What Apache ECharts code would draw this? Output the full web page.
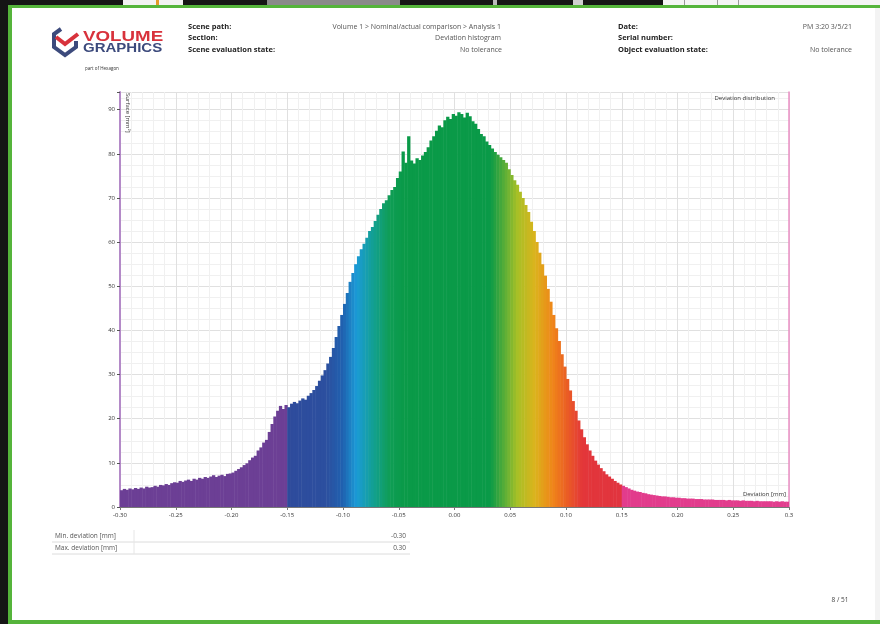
<!DOCTYPE html>
<html>
<head>
<meta charset="utf-8">
<script src="https://cdn.jsdelivr.net/npm/echarts@6/dist/echarts.min.js"></script>
<style>
  html, body { margin: 0; padding: 0; background: #fff; }
  #chart { width: 880px; height: 624px; }
</style>
</head>
<body>
<div id="chart"></div>
<script>
// Deviation histogram: bins of 0.0025 mm from -0.30 mm to 0.30 mm
var binStart = -0.30;
var binWidth = 0.0025;
var surface = [
  3.8, 4.1, 3.9, 4.2,   4.0, 4.3, 4.1, 4.4,   4.2, 4.6, 4.4, 4.5,   4.8, 4.6, 5.0, 4.9,
  5.2, 5.0, 5.4, 5.6,   5.5, 5.9, 5.7, 6.0,   6.2, 5.9, 6.4, 6.2,   6.6, 6.4, 6.8, 6.6,
  6.9, 7.2, 6.8, 7.1,   7.3, 7.0, 7.5, 7.6,   7.8, 8.2, 8.6, 9.0,   9.5, 9.9, 10.6, 11.2,
  11.6, 12.8, 13.5, 14.6,  15.2, 17.0, 18.8, 20.5,  21.8, 22.9, 22.2, 23.1,  22.6, 23.4, 23.8, 23.5,
  24.1, 24.6, 24.3, 25.2,  25.8, 26.5, 27.4, 28.6,  29.8, 31.0, 32.5, 34.0,  36.0, 38.5, 41.0, 43.5,
  46.0, 48.5, 51.0, 53.0,  55.0, 56.8, 58.4, 59.6,  61.0, 62.5, 63.4, 64.8,  66.2, 67.5, 68.8, 69.5,
  70.6, 71.8, 72.5, 74.5,  76.0, 80.5, 78.0, 84.0,  78.5, 77.8, 79.0, 78.6,  79.6, 80.4, 81.5, 83.0,
  84.0, 85.2, 86.4, 86.0,  87.6, 88.4, 87.9, 89.0,  88.6, 89.4, 89.0, 88.2,  89.3, 88.5, 87.4, 86.8,
  85.6, 84.5, 84.0, 82.8,  82.0, 81.2, 80.4, 79.8,  79.2, 78.6, 78.0, 76.5,  75.2, 74.0, 73.0, 71.4,
  70.0, 68.4, 66.8, 64.6,  62.5, 60.0, 57.6, 55.0,  52.4, 49.4, 46.5, 43.5,  40.5, 37.6, 34.6, 31.8,
  29.0, 26.4, 24.0, 21.8,  19.6, 17.6, 15.8, 14.2,  12.8, 11.6, 10.5, 9.6,   8.8, 8.1, 7.4, 6.9,
  6.4, 5.9, 5.5, 5.1,   4.8, 4.5, 4.2, 3.9,   3.7, 3.5, 3.4, 3.2,   3.1, 2.9, 2.8, 2.7,
  2.6, 2.5, 2.4, 2.4,   2.3, 2.2, 2.2, 2.1,   2.1, 2.0, 2.0, 1.9,   1.9, 1.9, 1.8, 1.8,
  1.8, 1.7, 1.7, 1.7,   1.7, 1.6, 1.6, 1.6,   1.6, 1.5, 1.6, 1.5,   1.5, 1.5, 1.4, 1.5,
  1.4, 1.4, 1.4, 1.3,   1.4, 1.3, 1.3, 1.3,   1.3, 1.3, 1.2, 1.3,   1.2, 1.3, 1.2, 1.2
];
var xTicks = ['-0.30', '-0.25', '-0.20', '-0.15', '-0.10', '-0.05', '0.00', '0.05', '0.10', '0.15', '0.20', '0.25', '0.3'];

// Colour scale along the deviation axis
var colorStops = [
  [-0.300, '#6c3f95'], [-0.1505, '#6c3f95'], [-0.150, '#2e4b9c'], [-0.115, '#2c4f9f'],
  [-0.100, '#1f62b0'], [-0.088, '#1b9bd7'], [-0.072, '#12a08e'], [-0.058, '#0f9d55'],
  [-0.045, '#0a9a48'], [0.032, '#0a9a48'], [0.045, '#5aae37'], [0.056, '#a6c027'],
  [0.072, '#dbb31c'], [0.088, '#ef8519'], [0.102, '#ea5a26'], [0.115, '#e3363a'],
  [0.1495, '#e1343f'], [0.150, '#e23c8c'], [0.300, '#e23c8e']
];

function hexToRgb(h) {
  return [parseInt(h.slice(1, 3), 16), parseInt(h.slice(3, 5), 16), parseInt(h.slice(5, 7), 16)];
}
function colorAt(x) {
  for (var i = 0; i < colorStops.length - 1; i++) {
    var a = colorStops[i], b = colorStops[i + 1];
    if (x >= a[0] && x <= b[0]) {
      var t = (x - a[0]) / (b[0] - a[0]);
      var ca = hexToRgb(a[1]), cb = hexToRgb(b[1]);
      var c = ca.map(function (v, k) { return Math.round(v + (cb[k] - v) * t); });
      return 'rgb(' + c.join(',') + ')';
    }
  }
  return colorStops[colorStops.length - 1][1];
}

var bins = surface.map(function (v, i) {
  var lo = binStart + i * binWidth;
  return [lo, lo + binWidth, v];
});

var chart = echarts.init(document.getElementById('chart'), null, { renderer: 'canvas' });
var FONT = 'Open Sans';
var navy = '#3c4a7c', red = '#d8323c';

function txt(x, y, s, opt) {
  opt = opt || {};
  return {
    type: 'text', x: x, y: y, silent: true, z: 10,
    scaleX: opt.scaleX || 1,
    style: {
      text: s, fill: opt.color || '#333', fontSize: opt.size || 7.5,
      fontWeight: opt.bold ? 'bold' : 'normal', fontFamily: opt.font || FONT,
      align: opt.align || 'left', verticalAlign: 'middle'
    },
    rotation: opt.rotation || 0
  };
}
function rect(x, y, w, h, fill) {
  return { type: 'rect', shape: { x: x, y: y, width: w, height: h }, style: { fill: fill }, silent: true, z: 5 };
}

var graphics = [
  // window frame
  rect(0, 0, 880, 6, '#151515'),
  rect(123, 0, 60, 5, '#f2f2f2'),
  rect(156, 0, 3, 5, '#e29a2a'),
  rect(267, 0, 133, 5, '#8a8a8a'),
  rect(493, 0, 4, 5, '#bbbbbb'),
  rect(573, 0, 10, 5, '#cfcfcf'),
  rect(663, 0, 217, 5, '#f4f4f4'),
  rect(684, 0, 1, 5, '#999'),
  rect(717, 0, 1, 5, '#999'),
  rect(738, 0, 1, 5, '#999'),
  rect(0, 0, 8, 624, '#151515'),
  rect(8, 5, 872, 3, '#55b43b'),
  rect(8, 5, 4, 619, '#55b43b'),
  rect(8, 620, 872, 4, '#55b43b'),
  rect(875, 8, 5, 612, '#f3f3f3'),

  // logo mark
  { type: 'polyline', shape: { points: [[61, 29], [54, 34], [54, 47], [65, 55], [76, 47], [76, 41]] },
    style: { stroke: navy, lineWidth: 4, fill: null, lineJoin: 'miter' }, silent: true, z: 10 },
  { type: 'polyline', shape: { points: [[56, 37], [65, 44], [78, 34]] },
    style: { stroke: red, lineWidth: 4, fill: null, lineJoin: 'miter' }, silent: true, z: 11 },
  txt(83, 37, 'VOLUME', { color: red, size: 15, bold: true, font: 'Liberation Sans', scaleX: 1.25 }),
  txt(83, 49, 'GRAPHICS', { color: navy, size: 12.5, bold: true, font: 'Liberation Sans', scaleX: 1.2 }),
  txt(85, 69, 'part of Hexagon', { size: 4.5, color: '#333' }),

  // report header
  txt(188, 27, 'Scene path:', { bold: true, size: 7.5, color: '#222' }),
  txt(188, 38, 'Section:', { bold: true, size: 7.5, color: '#222' }),
  txt(188, 50, 'Scene evaluation state:', { bold: true, size: 7.5, color: '#222' }),
  txt(501, 27, 'Volume 1 > Nominal/actual comparison > Analysis 1', { align: 'right', size: 7, color: '#555' }),
  txt(501, 38, 'Deviation histogram', { align: 'right', size: 7, color: '#555' }),
  txt(502, 50, 'No tolerance', { align: 'right', size: 7, color: '#555' }),
  txt(618, 27, 'Date:', { bold: true, size: 7.5, color: '#222' }),
  txt(618, 38, 'Serial number:', { bold: true, size: 7.5, color: '#222' }),
  txt(618, 50, 'Object evaluation state:', { bold: true, size: 7.5, color: '#222' }),
  txt(852, 27, 'PM 3:20 3/5/21', { align: 'right', size: 7, color: '#555' }),
  txt(852, 50, 'No tolerance', { align: 'right', size: 7, color: '#555' }),

  // chart captions
  txt(775, 98, 'Deviation distribution', { align: 'right', size: 6, color: '#333' }),
  txt(786, 494, 'Deviation [mm]', { align: 'right', size: 6, color: '#333' }),
  txt(128, 93, 'Surface [mm²]', { size: 6, color: '#333', rotation: -Math.PI / 2 }),

  // summary table
  txt(55, 536, 'Min. deviation [mm]', { size: 6.5, color: '#555' }),
  txt(406, 536, '-0.30', { align: 'right', size: 6.5, color: '#555' }),
  { type: 'line', shape: { x1: 52, y1: 542, x2: 410, y2: 542 }, style: { stroke: '#dcdcdc', lineWidth: 1 }, silent: true },
  txt(55, 548, 'Max. deviation [mm]', { size: 6.5, color: '#555' }),
  txt(406, 548, '0.30', { align: 'right', size: 6.5, color: '#555' }),
  { type: 'line', shape: { x1: 52, y1: 554, x2: 410, y2: 554 }, style: { stroke: '#dcdcdc', lineWidth: 1 }, silent: true },
  { type: 'line', shape: { x1: 134, y1: 530, x2: 134, y2: 554 }, style: { stroke: '#e6e6e6', lineWidth: 1 }, silent: true },

  txt(840, 600, '8 / 51', { align: 'center', size: 6.5, color: '#444' })
];

var option = {
  backgroundColor: '#ffffff',
  animation: false,
  grid: { left: 120, right: 91, top: 92, bottom: 117, containLabel: false },
  xAxis: {
    type: 'value', min: -0.30, max: 0.30, interval: 0.05,
    axisLine: { show: true, onZero: false, lineStyle: { color: '#777', width: 1 } },
    axisTick: { show: true, length: 3, lineStyle: { color: '#777' } },
    axisLabel: {
      fontSize: 6, color: '#333', fontFamily: FONT, margin: 5,
      formatter: function (v) {
        var i = Math.round((v + 0.30) / 0.05);
        return xTicks[i] !== undefined ? xTicks[i] : '';
      }
    },
    splitLine: { show: true, lineStyle: { color: '#e0e0e0', width: 1 } },
    minorTick: { show: false, splitNumber: 5 },
    minorSplitLine: { show: true, lineStyle: { color: '#f0f0f0', width: 1 } }
  },
  yAxis: [{
    type: 'value', min: 0, max: 94, interval: 10,
    axisLine: { show: true, onZero: false, lineStyle: { color: '#b48ac8', width: 2 } },
    axisTick: { show: true, length: 3, lineStyle: { color: '#555' } },
    axisLabel: { fontSize: 6, color: '#333', fontFamily: FONT, margin: 5,
      formatter: function (v) { return v <= 90 ? String(v) : ''; } },
    splitLine: { show: true, lineStyle: { color: '#e0e0e0', width: 1 } },
    minorTick: { show: false, splitNumber: 4 },
    minorSplitLine: { show: true, lineStyle: { color: '#f0f0f0', width: 1 } }
  }, {
    type: 'value', min: 0, max: 94, position: 'right',
    axisLine: { show: true, onZero: false, lineStyle: { color: '#eb8fc4', width: 1.5 } },
    axisTick: { show: false }, axisLabel: { show: false }, splitLine: { show: false }
  }],
  series: [{
    type: 'custom',
    data: bins,
    encode: { x: [0, 1], y: 2 },
    clip: true,
    renderItem: function (params, api) {
      var lo = api.value(0), hi = api.value(1), v = api.value(2);
      var pTop = api.coord([lo, v]);
      var pBot = api.coord([hi, 0]);
      return {
        type: 'rect',
        shape: { x: pTop[0], y: pTop[1], width: pBot[0] - pTop[0] + 0.5, height: pBot[1] - pTop[1] },
        style: { fill: colorAt((lo + hi) / 2) }
      };
    }
  }],
  graphic: graphics
};
chart.setOption(option);
</script>
</body>
</html>
